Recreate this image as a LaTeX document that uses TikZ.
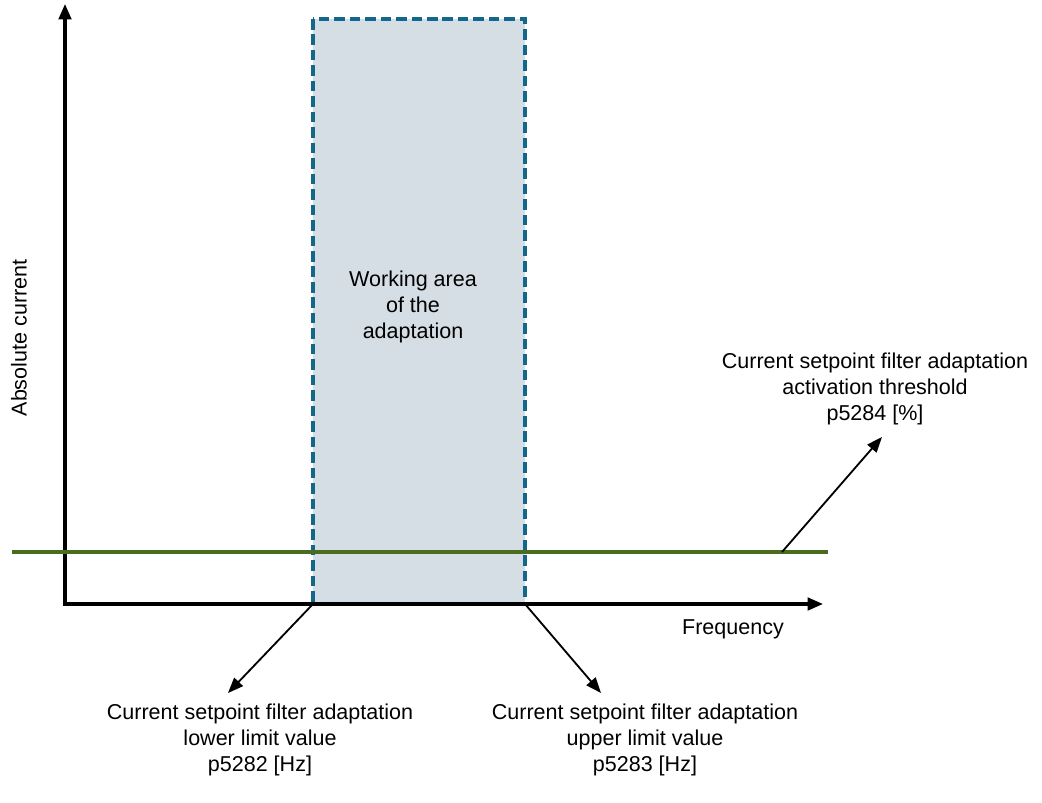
\documentclass[tikz,border=0pt]{standalone}
\usepackage{fontspec}
\setmainfont{Liberation Sans}
\usetikzlibrary{arrows.meta}

\definecolor{areafill}{HTML}{D5DEE4}
\definecolor{areaedge}{HTML}{14678A}
\definecolor{threshgreen}{HTML}{4B6B1E}

\tikzset{
  axis/.style={line width=2.2pt,{Triangle[length=11pt,width=9pt]}-{Triangle[length=11pt,width=9pt]}},
  pointer/.style={line width=1.3pt,-{Triangle[length=11pt,width=8.5pt]}},
  txt/.style={align=center,inner sep=0pt,font=\fontsize{15.3}{18.5}\selectfont}
}

\begin{document}
\begin{tikzpicture}[x=0.025cm,y=-0.025cm]
\useasboundingbox (0,0) rectangle (1042,803);

% working area
\fill[areafill] (313,19) rectangle (525,604);
\draw[areaedge,line width=2.4pt,dash pattern=on 7.5pt off 3.5pt] (313,19) rectangle (525,604);
\node[txt] (area) at (413,307) {Working area\\of the\\adaptation};

% axes
\draw[axis] (65,4) -- (65,604) -- (823,604);
\node[txt,rotate=90] (ylab) at (19,338) {Absolute current};
\node[txt] (xlab) at (733,629) {Frequency};

% threshold line
\draw[threshgreen,line width=2.2pt] (12,552) -- (828,552);

\coordinate (lowcorner) at (313,604);
\coordinate (upcorner) at (525,604);
\coordinate (threshpt) at (782,552);
\coordinate (lowtip) at (228,693);
\coordinate (uptip) at (601,693);
\coordinate (threshtip) at (882,437);

\node[txt] (lowlab) at (260,740) {Current setpoint filter adaptation\\lower limit value\\p5282 [Hz]};
\node[txt] (uplab) at (645,740) {Current setpoint filter adaptation\\upper limit value\\p5283 [Hz]};
\node[txt] (threshlab) at (875,389) {Current setpoint filter adaptation\\activation threshold\\p5284 [\%]};

\draw[pointer] (lowcorner) -- (lowtip);
\draw[pointer] (upcorner) -- (uptip);
\draw[pointer] (threshpt) -- (threshtip);
\end{tikzpicture}
\end{document}
